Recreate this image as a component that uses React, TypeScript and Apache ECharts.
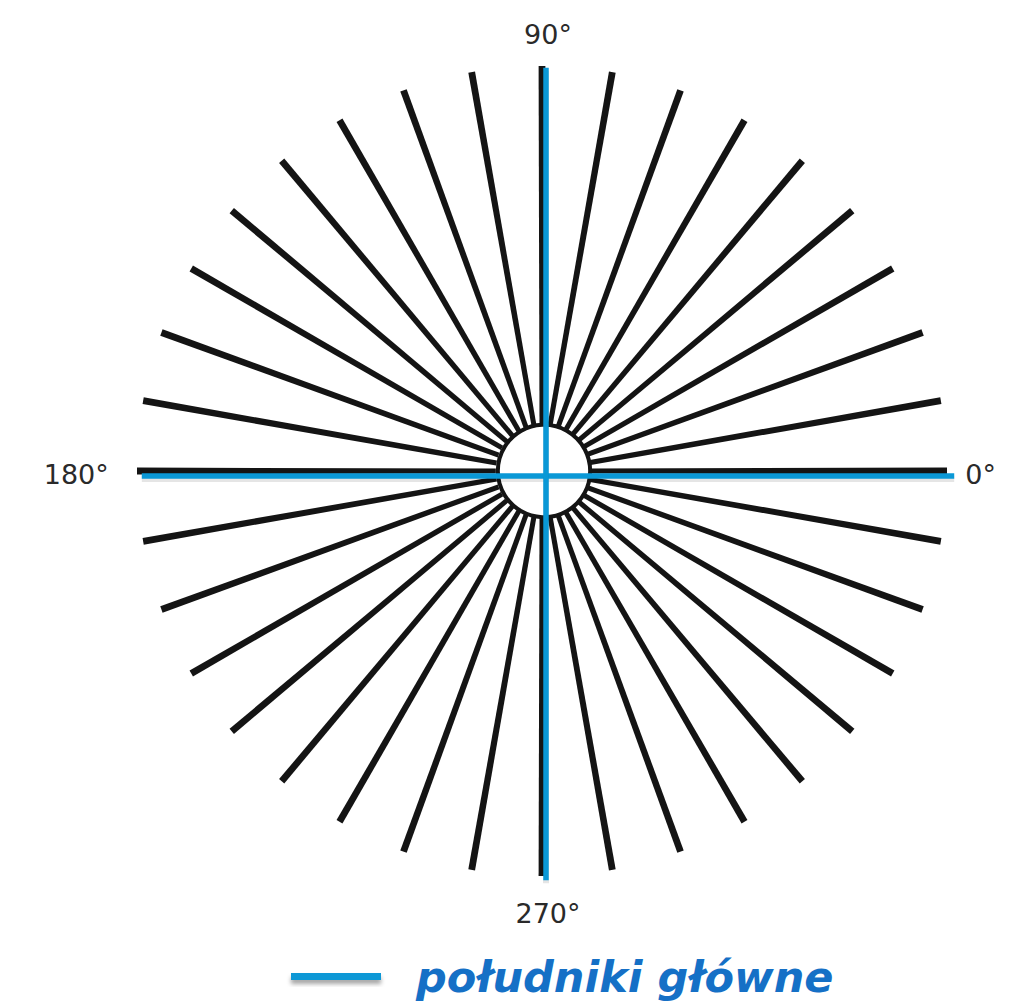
import React, { useEffect, useRef } from 'react';
import * as echarts from 'echarts';

// Angles (degrees) of every meridian spoke
const spokeAngles = [
  0, 10, 20, 30, 40, 50, 60, 70, 80, 90, 100, 110, 120, 130, 140, 150, 160, 170,
  180, 190, 200, 210, 220, 230, 240, 250, 260, 270, 280, 290, 300, 310, 320, 330, 340, 350,
];
// Main (highlighted) meridians
const mainMeridians = [0, 90, 180, 270];
const meridianLabels = ['0°', '90°', '180°', '270°'];
const legendName = 'południki główne';

// radius values on the radius axis (0..100)
const innerRadius = 11.4;
const spokeRadius = 100;
const mainRadius = 100.3;
const labelRadius = 104.5;

const BLACK = '#141414';
const BLUE = '#0a98d6';
const LEGEND_TEXT = '#1570c6';

export default function App() {
  const ref = useRef<HTMLDivElement>(null);

  useEffect(() => {
    document.body.style.margin = '0';
    const chart = echarts.init(ref.current!, null, { renderer: 'svg' });

    const option: any = {
      animation: false,
      backgroundColor: '#ffffff',
      polar: { center: [542, 471], radius: 405 },
      angleAxis: {
        type: 'value', min: 0, max: 360, startAngle: 0, clockwise: false, show: false,
      },
      radiusAxis: { type: 'value', min: 0, max: 100, show: false },
      legend: {
        data: [legendName],
        left: 286,
        top: 950,
        itemWidth: 90,
        itemHeight: 7,
        icon: 'rect',
        itemStyle: {
          color: BLUE,
          shadowBlur: 4,
          shadowColor: 'rgba(0,0,0,0.35)',
          shadowOffsetY: 4,
        },
        textStyle: {
          fontFamily: 'DejaVu Sans',
          fontWeight: 'bold',
          fontStyle: 'italic',
          fontSize: 43,
          color: LEGEND_TEXT,
          padding: [0, 0, 0, 30],
        },
        selectedMode: false,
      },
      series: [
        {
          type: 'custom',
          name: 'spokes',
          coordinateSystem: 'polar',
          z: 1,
          silent: true,
          data: spokeAngles.map((a) => [spokeRadius, a]),
          renderItem: (params: any, api: any) => {
            const r = api.value(0);
            const a = api.value(1);
            const p0 = api.coord([innerRadius, a]);
            const p1 = api.coord([r, a]);
            const dx = p1[0] - p0[0];
            const dy = p1[1] - p0[1];
            const len = Math.hypot(dx, dy);
            const nx = -dy / len;
            const ny = dx / len;
            const w0 = 2.5;
            const w1 = 3.4;
            return {
              type: 'polygon',
              shape: {
                points: [
                  [p0[0] + nx * w0, p0[1] + ny * w0],
                  [p1[0] + nx * w1, p1[1] + ny * w1],
                  [p1[0] - nx * w1, p1[1] - ny * w1],
                  [p0[0] - nx * w0, p0[1] - ny * w0],
                ],
              },
              style: { fill: BLACK },
            };
          },
        },
        {
          type: 'custom',
          name: 'hub',
          coordinateSystem: 'polar',
          z: 2,
          silent: true,
          data: [[innerRadius, 0]],
          renderItem: (params: any, api: any) => {
            const c = api.coord([0, 0]);
            const e = api.coord([api.value(0), api.value(1)]);
            const r = Math.hypot(e[0] - c[0], e[1] - c[1]);
            return {
              type: 'circle',
              shape: { cx: c[0] + 2, cy: c[1], r },
              style: { fill: '#ffffff', stroke: BLACK, lineWidth: 4 },
            };
          },
        },
        {
          type: 'custom',
          name: legendName,
          coordinateSystem: 'polar',
          z: 3,
          silent: true,
          itemStyle: { color: BLUE },
          data: mainMeridians.map((a) => [mainRadius, a]),
          renderItem: (params: any, api: any) => {
            const r = api.value(0);
            const a = api.value(1);
            const c = api.coord([0, a]);
            const e = api.coord([r, a]);
            const off = a % 180 === 0 ? [6, 5] : [4, 3];
            const x1 = c[0] + off[0];
            const y1 = c[1] + off[1];
            const x2 = e[0] + off[0];
            const y2 = e[1] + off[1];
            return {
              type: 'group',
              children: [
                {
                  type: 'line',
                  shape: { x1, y1: y1 + 3, x2, y2: y2 + 3 },
                  style: { stroke: 'rgba(0,0,0,0.10)', lineWidth: 6, lineCap: 'butt' },
                },
                {
                  type: 'line',
                  shape: { x1, y1, x2, y2 },
                  style: { stroke: BLUE, lineWidth: 5.5, lineCap: 'butt' },
                },
              ],
            };
          },
        },
        {
          type: 'custom',
          name: 'labels',
          coordinateSystem: 'polar',
          z: 4,
          silent: true,
          data: mainMeridians.map((a) => [labelRadius, a]),
          renderItem: (params: any, api: any) => {
            const r = api.value(0);
            const a = api.value(1);
            const p = api.coord([r, a]);
            let align = 'center';
            let verticalAlign = 'middle';
            if (a === 0) align = 'left';
            else if (a === 180) align = 'right';
            else if (a === 90) verticalAlign = 'bottom';
            else verticalAlign = 'top';
            return {
              type: 'text',
              x: p[0] + (a === 90 || a === 270 ? 6 : a === 180 ? -10 : 0),
              y: p[1] + (a === 0 || a === 180 ? 3 : a === 270 ? 6 : 0),
              style: {
                text: meridianLabels[params.dataIndex],
                fontFamily: 'DejaVu Sans',
                fontSize: 27,
                fill: '#2a2a2a',
                align,
                verticalAlign,
              },
            };
          },
        },
      ],
    };

    chart.setOption(option);
    return () => chart.dispose();
  }, []);

  return <div ref={ref} style={{ width: 1031, height: 1001 }} />;
}
